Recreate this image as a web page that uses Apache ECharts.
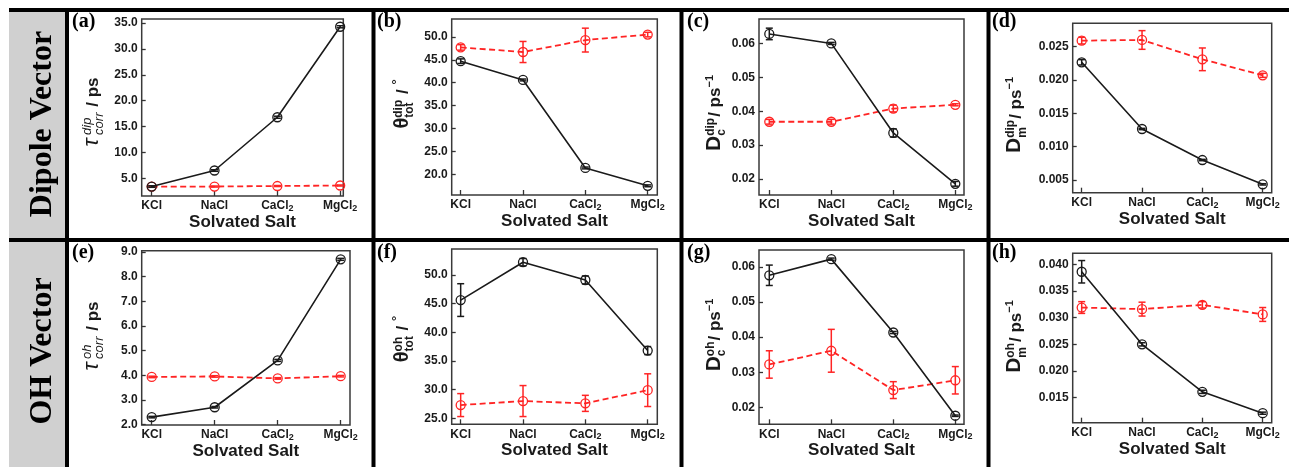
<!DOCTYPE html>
<html>
<head>
<meta charset="utf-8">
<script src="https://cdn.jsdelivr.net/npm/echarts@6/dist/echarts.min.js"></script>
<style>
  html, body { margin: 0; padding: 0; background: #fff; }
  #chart { width: 1289px; height: 467px; }
</style>
</head>
<body>
<div id="chart"></div>
<script>
// ---- data ----
const salts = ['KCl', 'NaCl', 'CaCl2', 'MgCl2'];

// (a) dipole vector correlation time / ps
const tauDipBlack = [3.4, 6.5, 16.8, 34.3];
const tauDipBlackErr = [0.15, 0.15, 0.2, 0.2];
const tauDipRed = [3.4, 3.4, 3.5, 3.6];
const tauDipRedErr = [0.1, 0.1, 0.1, 0.1];
const tauDipTicks = [5, 10, 15, 20, 25, 30, 35];

// (b) dipole vector total angle / deg
const thetaDipBlack = [44.7, 40.6, 21.4, 17.5];
const thetaDipBlackErr = [0.5, 0.2, 0.2, 0.2];
const thetaDipRed = [47.7, 46.7, 49.3, 50.5];
const thetaDipRedErr = [0.6, 2.3, 2.6, 0.5];
const thetaDipTicks = [20, 25, 30, 35, 40, 45, 50];

// (c) dipole vector D_c / ps^-1
const dcDipBlack = [0.0628, 0.0600, 0.0336, 0.0186];
const dcDipBlackErr = [0.0017, 0.0003, 0.0012, 0.0007];
const dcDipRed = [0.0369, 0.0369, 0.0408, 0.0419];
const dcDipRedErr = [0.0007, 0.0007, 0.0010, 0.0003];
const dcDipTicks = [0.02, 0.03, 0.04, 0.05, 0.06];

// (d) dipole vector D_m / ps^-1
const dmDipBlack = [0.02265, 0.01265, 0.0080, 0.00435];
const dmDipBlackErr = [0.0004, 0.0001, 0.0001, 0.0001];
const dmDipRed = [0.0259, 0.0260, 0.0231, 0.0207];
const dmDipRedErr = [0.0005, 0.0014, 0.0017, 0.0003];
const dmDipTicks = [0.005, 0.010, 0.015, 0.020, 0.025];

// (e) OH vector correlation time / ps
const tauOhBlack = [2.3, 2.7, 4.6, 8.7];
const tauOhBlackErr = [0.03, 0.03, 0.04, 0.04];
const tauOhRed = [3.93, 3.95, 3.87, 3.96];
const tauOhRedErr = [0.03, 0.03, 0.03, 0.03];
const tauOhTicks = [2, 3, 4, 5, 6, 7, 8, 9];

// (f) OH vector total angle / deg
const thetaOhBlack = [45.6, 52.2, 49.1, 36.8];
const thetaOhBlackErr = [2.85, 0.64, 0.7, 0.7];
const thetaOhRed = [27.3, 28.0, 27.6, 29.9];
const thetaOhRedErr = [2.0, 2.7, 1.4, 2.85];
const thetaOhTicks = [25, 30, 35, 40, 45, 50];

// (g) OH vector D_c / ps^-1
const dcOhBlack = [0.0576, 0.0622, 0.0413, 0.0176];
const dcOhBlackErr = [0.0029, 0.0003, 0.0003, 0.0002];
const dcOhRed = [0.0322, 0.0361, 0.0249, 0.0277];
const dcOhRedErr = [0.0039, 0.0061, 0.0024, 0.0039];
const dcOhTicks = [0.02, 0.03, 0.04, 0.05, 0.06];

// (h) OH vector D_m / ps^-1
const dmOhBlack = [0.0386, 0.0250, 0.0161, 0.0121];
const dmOhBlackErr = [0.0021, 0.0003, 0.0003, 0.0002];
const dmOhRed = [0.0319, 0.0316, 0.0324, 0.0306];
const dmOhRedErr = [0.0011, 0.0013, 0.0006, 0.0013];
const dmOhTicks = [0.015, 0.020, 0.025, 0.030, 0.035, 0.040];

const rowLabels = ['Dipole Vector', 'OH Vector'];

// ---- styling ----
const SANS = '"Liberation Sans", Arial, sans-serif';
const SERIF = '"Liberation Serif", "Times New Roman", serif';
const INK = '#1a1a1a';
const RED = '#ff2424';
const FRAME = '#000';

// axis title pieces: plain run or stacked super/subscript
const T = (t, font, dy) => ({ t, font, dy: dy || 0 });
const S = (sup, sub, font) => ({ sup, sub, font });
const tauTitle = tag => [T('τ', `italic 22px ${SANS}`), T(' ', `12px ${SANS}`), S(tag, 'corr', `italic 13px ${SANS}`), T(' / ps', `bold 17px ${SANS}`)];
const thetaTitle = tag => [T('θ', `bold 20px ${SANS}`), S(tag, 'tot', `bold 12px ${SANS}`), T(' / ', `bold 17px ${SANS}`), T('°', `bold 13px ${SANS}`, -7)];
const dTitle = (tag, sub) => [T('D', `bold 21px ${SANS}`), S(tag, sub, `bold 12px ${SANS}`), T('/ ps', `bold 17px ${SANS}`), T('−1', `bold 11px ${SANS}`, -8)];

const panels = [
  { tag: '(a)', black: tauDipBlack, blackErr: tauDipBlackErr, red: tauDipRed, redErr: tauDipRedErr, ticks: tauDipTicks, dec: 1,
    box: [141.7, 19, 343.3, 196], y: [1.57, 35.8], x: [-0.159, 3.05], title: tauTitle('dip'), tc: [95, 112], tagPos: [72, 21.5] },
  { tag: '(b)', black: thetaDipBlack, blackErr: thetaDipBlackErr, red: thetaDipRed, redErr: thetaDipRedErr, ticks: thetaDipTicks, dec: 1,
    box: [451.7, 19, 657.3, 195], y: [15.5, 53.9], x: [-0.144, 3.154], title: thetaTitle('dip'), tc: [405, 104], tagPos: [377, 21.5] },
  { tag: '(c)', black: dcDipBlack, blackErr: dcDipBlackErr, red: dcDipRed, redErr: dcDipRedErr, ticks: dcDipTicks, dec: 2,
    box: [759, 19, 964, 195], y: [0.0153, 0.0672], x: [-0.166, 3.14], title: dTitle('dip', 'c'), tc: [717, 113], tagPos: [687, 21.5] },
  { tag: '(d)', black: dmDipBlack, blackErr: dmDipBlackErr, red: dmDipRed, redErr: dmDipRedErr, ticks: dmDipTicks, dec: 3,
    box: [1072.7, 23.3, 1271.7, 192.7], y: [0.0031, 0.0285], x: [-0.149, 3.149], title: dTitle('dip', 'm'), tc: [1017.5, 115], tagPos: [992, 21.5] },
  { tag: '(e)', black: tauOhBlack, blackErr: tauOhBlackErr, red: tauOhRed, redErr: tauOhRedErr, ticks: tauOhTicks, dec: 1,
    box: [141.7, 250.7, 350, 425], y: [1.98, 9.05], x: [-0.159, 3.148], title: tauTitle('oh'), tc: [95, 336], tagPos: [72, 253] },
  { tag: '(f)', black: thetaOhBlack, blackErr: thetaOhBlackErr, red: thetaOhRed, redErr: thetaOhRedErr, ticks: thetaOhTicks, dec: 1,
    box: [451.7, 249, 657.3, 424.3], y: [23.95, 54.5], x: [-0.144, 3.154], title: thetaTitle('oh'), tc: [405, 339], tagPos: [377, 253] },
  { tag: '(g)', black: dcOhBlack, blackErr: dcOhBlackErr, red: dcOhRed, redErr: dcOhRedErr, ticks: dcOhTicks, dec: 2,
    box: [759, 250, 964, 424.3], y: [0.01516, 0.0648], x: [-0.166, 3.14], title: dTitle('oh', 'c'), tc: [717, 335], tagPos: [687, 253] },
  { tag: '(h)', black: dmOhBlack, blackErr: dmOhBlackErr, red: dmOhRed, redErr: dmOhRedErr, ticks: dmOhTicks, dec: 3,
    box: [1072.7, 253.3, 1271.7, 422.7], y: [0.01032, 0.04206], x: [-0.149, 3.149], title: dTitle('oh', 'm'), tc: [1017.5, 336.5], tagPos: [992, 253] }
];

// ---- helpers ----
const measureCtx = document.createElement('canvas').getContext('2d');
function textWidth(text, font) { measureCtx.font = font; return measureCtx.measureText(text).width; }
function fontPx(font) { return parseFloat(font.match(/([\d.]+)px/)[1]); }

// vertical (bottom-to-top) axis title with stacked super/subscripts
function rotatedTitle(parts, cx, cy) {
  const SUP = -7, SUB = 4.5;
  let x = 0;
  const items = [];
  for (const p of parts) {
    if (p.sup !== undefined) {
      items.push({ text: p.sup, font: p.font, x, base: SUP });
      items.push({ text: p.sub, font: p.font, x, base: SUB });
      x += Math.max(textWidth(p.sup, p.font), textWidth(p.sub, p.font)) + 1;
    } else {
      items.push({ text: p.t, font: p.font, x, base: p.dy });
      x += textWidth(p.t, p.font);
    }
  }
  const total = x;
  const baseline = 0.26 * 17;
  return {
    type: 'group', x: cx, y: cy, rotation: Math.PI / 2, silent: true,
    children: items.map(it => ({
      type: 'text',
      x: it.x - total / 2,
      y: baseline + it.base - 0.35 * fontPx(it.font),
      style: { text: it.text, font: it.font, fill: INK, align: 'left', verticalAlign: 'middle', textAlign: 'left', textVerticalAlign: 'middle' }
    }))
  };
}

function errorBars(color) {
  return function (params, api) {
    const x = api.value(0), lo = api.value(1), hi = api.value(2);
    const top = api.coord([x, hi]), bot = api.coord([x, lo]);
    const w = 3.5;
    const st = { stroke: color, lineWidth: 1.5 };
    return {
      type: 'group',
      children: [
        { type: 'line', shape: { x1: top[0], y1: top[1], x2: bot[0], y2: bot[1] }, style: st },
        { type: 'line', shape: { x1: top[0] - w, y1: top[1], x2: top[0] + w, y2: top[1] }, style: st },
        { type: 'line', shape: { x1: bot[0] - w, y1: bot[1], x2: bot[0] + w, y2: bot[1] }, style: st }
      ]
    };
  };
}

const pts = vals => vals.map((v, i) => [i, v]);
const errs = (vals, e) => vals.map((v, i) => [i, v - e[i], v + e[i]]);

function saltLabel(v) {
  const s = salts[Math.round(v)];
  return /2$/.test(s) ? `{b|${s.slice(0, -1)}}{s|2}` : `{b|${s}}`;
}

// ---- option ----
const grid = [], xAxis = [], yAxis = [], series = [];
panels.forEach((p, i) => {
  grid.push({
    left: p.box[0], top: p.box[1], width: p.box[2] - p.box[0], height: p.box[3] - p.box[1],
    show: true, borderColor: '#3a3a3a', borderWidth: 1.5, backgroundColor: 'transparent',
    containLabel: false, outerBoundsMode: 'none'
  });
  xAxis.push({
    type: 'value', gridIndex: i, min: p.x[0], max: p.x[1], position: 'bottom',
    axisLine: { show: false, onZero: false }, splitLine: { show: false },
    axisTick: { show: true, inside: true, length: 5, customValues: [0, 1, 2, 3], lineStyle: { color: '#333', width: 1.3 } },
    axisLabel: {
      customValues: [0, 1, 2, 3], formatter: saltLabel, margin: 3,
      rich: {
        b: { fontFamily: SANS, fontWeight: 'bold', fontSize: 12, color: INK, lineHeight: 14 },
        s: { fontFamily: SANS, fontWeight: 'bold', fontSize: 9, color: INK, lineHeight: 4, verticalAlign: 'bottom' }
      }
    },
    name: 'Solvated Salt', nameLocation: 'middle', nameGap: 25,
    nameTextStyle: { fontFamily: SANS, fontWeight: 'bold', fontSize: 17, color: INK, verticalAlign: 'middle' }
  });
  yAxis.push({
    type: 'value', gridIndex: i, min: p.y[0], max: p.y[1], position: 'left',
    axisLine: { show: false, onZero: false }, splitLine: { show: false },
    axisTick: { show: true, inside: true, length: 4, customValues: p.ticks, lineStyle: { color: '#333', width: 1.3 } },
    axisLabel: {
      customValues: p.ticks, margin: 4,
      formatter: v => Number(v).toFixed(p.dec),
      fontFamily: SANS, fontWeight: 'bold', fontSize: 12, color: INK
    }
  });
  series.push({
    type: 'line', xAxisIndex: i, yAxisIndex: i, data: pts(p.red), z: 3,
    symbol: 'circle', symbolSize: 9,
    itemStyle: { color: 'rgba(0,0,0,0)', borderColor: RED, borderWidth: 1.3 },
    lineStyle: { color: RED, width: 1.8, type: [6, 3.5] },
    emphasis: { disabled: true }
  });
  series.push({
    type: 'custom', xAxisIndex: i, yAxisIndex: i, data: errs(p.red, p.redErr), z: 4,
    renderItem: errorBars(RED), silent: true
  });
  series.push({
    type: 'line', xAxisIndex: i, yAxisIndex: i, data: pts(p.black), z: 5,
    symbol: 'circle', symbolSize: 9,
    itemStyle: { color: 'rgba(0,0,0,0)', borderColor: INK, borderWidth: 1.3 },
    lineStyle: { color: INK, width: 1.6 },
    emphasis: { disabled: true }
  });
  series.push({
    type: 'custom', xAxisIndex: i, yAxisIndex: i, data: errs(p.black, p.blackErr), z: 6,
    renderItem: errorBars(INK), silent: true
  });
});

// table frame, row headers, panel tags, axis titles
const graphic = [
  { type: 'rect', shape: { x: 9, y: 12, width: 56, height: 226 }, style: { fill: '#d0d0d0' }, silent: true },
  { type: 'rect', shape: { x: 9, y: 242, width: 56, height: 225 }, style: { fill: '#d0d0d0' }, silent: true },
  { type: 'rect', shape: { x: 9, y: 8, width: 1280, height: 4 }, style: { fill: FRAME }, silent: true },
  { type: 'rect', shape: { x: 9, y: 238, width: 1280, height: 4 }, style: { fill: FRAME }, silent: true }
];
[65, 371.5, 679.5, 986.5].forEach(x => {
  graphic.push({ type: 'rect', shape: { x, y: 8, width: 4, height: 459 }, style: { fill: FRAME }, silent: true });
});
[[43, 124], [43, 351]].forEach((c, r) => {
  graphic.push({
    type: 'text', x: c[0], y: c[1], rotation: Math.PI / 2, silent: true,
    style: { text: rowLabels[r], font: `bold 32px ${SERIF}`, fill: '#000', align: 'center', verticalAlign: 'middle', textAlign: 'center', textVerticalAlign: 'middle' }
  });
});
panels.forEach(p => {
  graphic.push({
    type: 'text', x: p.tagPos[0], y: p.tagPos[1], silent: true,
    style: { text: p.tag, font: `bold 20px ${SERIF}`, fill: '#000', align: 'left', verticalAlign: 'middle', textAlign: 'left', textVerticalAlign: 'middle' }
  });
  graphic.push(rotatedTitle(p.title, p.tc[0], p.tc[1]));
});

const chart = echarts.init(document.getElementById('chart'), null, { renderer: 'canvas' });
chart.setOption({ animation: false, backgroundColor: '#fff', grid, xAxis, yAxis, series, graphic });
</script>
</body>
</html>
